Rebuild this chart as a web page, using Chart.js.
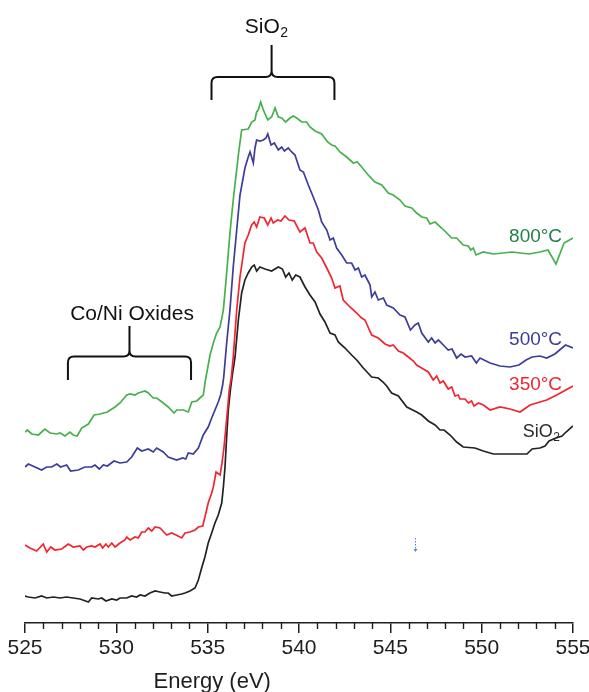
<!DOCTYPE html>
<html>
<head>
<meta charset="utf-8">
<title>O K-edge spectra</title>
<script src="https://cdn.jsdelivr.net/npm/chart.js@4.4.1/dist/chart.umd.min.js"></script>
<style>
  html, body { margin: 0; padding: 0; background: #ffffff; }
  canvas { display: block; }
</style>
</head>
<body>
<canvas id="spectra" width="589" height="692"></canvas>
<script>
// Photon energy (eV) and stacked intensity (a.u., vertically offset) per sample
const energy800 = [525.00,525.13,525.37,525.73,526.09,526.37,526.74,526.92,527.19,527.46,527.64,527.86,528.10,528.47,528.78,529.11,529.51,529.93,530.20,530.57,530.75,531.02,531.20,531.57,531.75,532.02,532.21,532.57,532.84,533.16,533.30,533.67,533.94,534.13,534.40,534.76,534.88,535.13,535.31,535.49,535.68,535.86,536.04,536.22,536.40,536.68,536.86,537.22,537.41,537.59,537.68,537.77,537.90,538.05,538.29,538.50,538.69,538.87,539.05,539.27,539.51,539.69,539.87,540.15,540.42,540.60,540.88,541.24,541.57,541.79,541.97,542.24,542.61,542.97,543.19,543.43,543.79,544.16,544.53,544.89,545.16,545.53,545.80,546.17,546.44,546.72,546.99,547.17,547.45,547.81,548.09,548.36,548.63,548.99,549.27,549.40,549.54,549.69,550.09,550.64,551.66,552.59,553.19,553.63,554.07,554.51,555.00];
const intensity800 = [1.91,1.93,1.89,1.88,1.94,1.90,1.89,1.90,1.87,1.91,1.88,1.87,1.95,1.99,2.08,2.09,2.11,2.16,2.20,2.28,2.29,2.28,2.30,2.32,2.30,2.25,2.25,2.20,2.16,2.10,2.13,2.13,2.11,2.21,2.22,2.28,2.43,2.68,2.80,2.90,2.96,3.13,3.50,3.90,4.23,4.68,4.93,4.94,5.01,5.03,5.11,5.13,5.21,5.13,5.03,5.06,5.15,5.06,5.05,5.01,5.05,5.07,5.05,5.01,5.01,4.96,4.92,4.89,4.81,4.78,4.77,4.71,4.66,4.60,4.61,4.56,4.48,4.41,4.38,4.30,4.28,4.23,4.17,4.15,4.10,4.06,4.05,3.99,4.01,3.95,3.90,3.85,3.85,3.78,3.77,3.73,3.75,3.68,3.71,3.69,3.71,3.69,3.71,3.73,3.59,3.80,3.85];

const energy500 = [525.00,525.18,525.55,525.91,526.19,526.46,526.74,526.95,527.28,527.50,527.92,528.28,528.65,528.83,529.07,529.29,529.51,529.87,530.20,530.57,530.84,531.15,531.39,531.75,532.02,532.21,532.57,532.84,533.30,533.63,533.80,533.94,534.21,534.49,534.76,535.03,535.22,535.40,535.58,535.71,535.82,535.88,536.04,536.22,536.40,536.59,536.77,537.04,537.22,537.32,537.50,537.59,537.68,537.86,538.05,538.19,538.29,538.47,538.65,538.87,539.05,539.20,539.41,539.60,539.78,540.05,540.24,540.51,540.78,541.06,541.24,541.52,541.70,541.88,542.06,542.34,542.61,542.88,543.07,543.25,543.43,543.61,543.89,543.98,544.16,544.34,544.62,544.80,545.16,545.53,545.80,546.10,546.35,546.53,546.72,547.08,547.26,547.45,547.63,547.90,548.17,548.38,548.63,548.87,549.09,549.45,549.71,549.91,550.46,551.00,551.55,552.04,552.43,552.76,553.19,553.56,554.01,554.59,555.00];
const intensity500 = [1.56,1.59,1.56,1.53,1.56,1.56,1.59,1.56,1.58,1.52,1.53,1.56,1.56,1.58,1.54,1.58,1.57,1.62,1.60,1.61,1.66,1.75,1.72,1.74,1.71,1.75,1.71,1.66,1.63,1.65,1.64,1.70,1.69,1.75,1.88,1.96,2.05,2.13,2.21,2.28,2.38,2.46,2.80,3.13,3.56,3.93,4.28,4.55,4.66,4.71,4.60,4.75,4.83,4.82,4.83,4.85,4.89,4.78,4.80,4.73,4.76,4.72,4.75,4.71,4.68,4.53,4.51,4.38,4.26,4.13,4.01,3.93,3.83,3.85,3.75,3.68,3.60,3.60,3.53,3.55,3.46,3.48,3.38,3.26,3.31,3.23,3.25,3.18,3.15,3.08,3.06,2.93,2.98,3.00,2.90,2.81,2.85,2.80,2.83,2.78,2.73,2.74,2.65,2.69,2.66,2.67,2.60,2.65,2.60,2.57,2.56,2.58,2.63,2.66,2.67,2.65,2.69,2.78,2.75];

const energy350 = [525.00,525.27,525.64,526.00,526.19,526.41,526.64,527.01,527.37,527.64,528.01,528.19,528.38,528.65,528.83,529.11,529.25,529.43,529.56,529.75,529.93,530.20,530.47,530.57,530.75,531.02,531.20,531.39,531.57,531.75,531.94,532.12,532.39,532.76,533.03,533.27,533.58,533.76,534.03,534.31,534.49,534.73,534.85,535.03,535.22,535.31,535.46,535.68,535.77,535.89,536.00,536.10,536.18,536.29,536.40,536.59,536.77,537.04,537.22,537.41,537.55,537.68,537.86,538.10,538.29,538.47,538.59,538.83,539.01,539.23,539.45,539.74,540.05,540.33,540.60,540.78,540.97,541.24,541.52,541.79,541.97,542.24,542.42,542.79,543.16,543.43,543.61,543.98,544.34,544.71,544.98,545.16,545.44,545.71,545.98,546.26,546.44,546.80,547.08,547.35,547.54,547.72,547.90,548.17,548.36,548.54,548.72,548.81,549.09,549.27,549.45,549.58,549.82,550.09,550.46,551.00,551.55,552.10,552.65,553.19,553.56,554.11,555.00];
const intensity350 = [0.78,0.75,0.72,0.79,0.71,0.76,0.73,0.74,0.79,0.76,0.77,0.73,0.76,0.77,0.76,0.79,0.75,0.79,0.76,0.80,0.76,0.80,0.83,0.86,0.83,0.86,0.85,0.91,0.91,0.95,0.92,0.96,0.95,0.88,0.90,0.88,0.85,0.90,0.91,0.93,0.96,0.97,1.06,1.20,1.30,1.36,1.51,1.48,1.58,1.75,1.96,2.16,2.33,2.45,2.66,3.13,3.46,3.80,3.88,3.98,4.01,3.96,4.06,4.05,3.98,4.05,4.00,4.03,4.02,4.07,4.03,4.02,3.91,3.95,3.80,3.80,3.71,3.65,3.55,3.45,3.35,3.37,3.23,3.16,3.10,3.05,3.03,2.88,2.85,2.79,2.77,2.78,2.72,2.70,2.66,2.62,2.58,2.54,2.51,2.43,2.47,2.40,2.42,2.34,2.36,2.27,2.28,2.24,2.24,2.20,2.22,2.17,2.20,2.18,2.13,2.16,2.14,2.11,2.18,2.21,2.23,2.28,2.37];

const energySiO2 = [525.00,525.18,525.55,525.91,526.19,526.55,526.92,527.28,527.64,528.01,528.47,528.65,529.01,529.20,529.43,529.75,530.02,530.20,530.57,530.84,531.11,531.30,531.57,531.84,532.12,532.39,532.66,532.84,533.03,533.30,533.58,533.76,534.03,534.31,534.49,534.67,534.85,535.03,535.22,535.40,535.58,535.77,535.86,535.95,536.04,536.13,536.25,536.36,536.50,536.68,536.86,537.04,537.22,537.41,537.55,537.68,537.86,538.14,538.50,538.87,539.09,539.27,539.45,539.63,539.82,540.05,540.33,540.60,540.88,541.15,541.42,541.70,541.97,542.15,542.52,542.88,543.16,543.52,543.98,544.34,544.60,544.80,545.07,545.44,545.90,546.44,546.72,547.08,547.45,547.72,547.94,548.27,548.63,548.99,549.63,550.09,550.64,551.55,552.48,552.76,553.19,553.47,553.69,554.07,554.40,554.62,555.00];
const intensitySiO2 = [0.27,0.26,0.25,0.27,0.25,0.26,0.25,0.26,0.25,0.24,0.21,0.25,0.24,0.25,0.22,0.24,0.23,0.25,0.25,0.27,0.26,0.28,0.27,0.30,0.32,0.31,0.30,0.30,0.27,0.28,0.29,0.30,0.32,0.35,0.43,0.55,0.66,0.80,0.90,1.00,1.08,1.20,1.36,1.56,1.86,2.13,2.34,2.49,2.66,3.03,3.30,3.43,3.50,3.56,3.58,3.52,3.56,3.54,3.52,3.56,3.54,3.46,3.50,3.43,3.48,3.46,3.36,3.28,3.21,3.09,3.01,2.90,2.88,2.81,2.75,2.68,2.63,2.55,2.46,2.45,2.41,2.37,2.30,2.27,2.16,2.11,2.08,2.02,1.98,1.93,1.93,1.88,1.81,1.76,1.75,1.72,1.69,1.69,1.69,1.74,1.75,1.77,1.82,1.85,1.87,1.91,1.97];

// Axis ticks
const energyTicks = [525, 530, 535, 540, 545, 550, 555];
const minorStep = 1;

// Series labels written beside the curves
const seriesNames = ['800°C', '500°C', '350°C', 'SiO2'];
const seriesColors = ['#46b04c', '#3c3c9a', '#ef2630', '#222222'];
const labelColors  = ['#1f7f4a', '#3c3c9a', '#ef2630', '#2a2a2a'];

const FONT = '"Liberation Sans", Arial, Helvetica, sans-serif';
const AXIS = '#1e1e1e';

function pairs(xs, ys) {
  const n = Math.min(xs.length, ys.length);
  const out = [];
  for (let i = 0; i < n; i++) out.push({ x: xs[i], y: ys[i] });
  return out;
}

const seriesData = [
  pairs(energy800, intensity800),
  pairs(energy500, intensity500),
  pairs(energy350, intensity350),
  pairs(energySiO2, intensitySiO2)
];

// Draws a curly bracket: legs down at xl/xr, bar at yBar, stem up to yTip at xc
function brace(ctx, xl, xr, xc, yLeg, yBar, yTip, r) {
  ctx.beginPath();
  ctx.moveTo(xl, yLeg);
  ctx.lineTo(xl, yBar + r);
  ctx.quadraticCurveTo(xl, yBar, xl + r, yBar);
  ctx.lineTo(xc - r, yBar);
  ctx.quadraticCurveTo(xc, yBar, xc, yBar - r);
  ctx.lineTo(xc, yTip);
  ctx.moveTo(xc, yBar - r);
  ctx.quadraticCurveTo(xc, yBar, xc + r, yBar);
  ctx.lineTo(xr - r, yBar);
  ctx.quadraticCurveTo(xr, yBar, xr, yBar + r);
  ctx.lineTo(xr, yLeg);
  ctx.stroke();
}

// "SiO" with a subscript 2
function drawSiO2(ctx, x, y, size, align) {
  ctx.font = size + 'px ' + FONT;
  const main = 'SiO';
  const wMain = ctx.measureText(main).width;
  ctx.font = Math.round(size * 0.68) + 'px ' + FONT;
  const wSub = ctx.measureText('2').width;
  let left = x;
  if (align === 'center') left = x - (wMain + wSub) / 2;
  ctx.textAlign = 'left';
  ctx.textBaseline = 'alphabetic';
  ctx.font = size + 'px ' + FONT;
  ctx.fillText(main, left, y);
  ctx.font = Math.round(size * 0.68) + 'px ' + FONT;
  ctx.fillText('2', left + wMain + 0.5, y + size * 0.2);
}

const annotations = {
  id: 'annotations',
  afterDraw(chart) {
    const { ctx } = chart;
    const xs = chart.scales.x;
    const ys = chart.scales.y;
    const X = v => xs.getPixelForValue(v);
    const Y = v => ys.getPixelForValue(v);
    ctx.save();

    // minor ticks every 1 eV
    ctx.strokeStyle = AXIS;
    ctx.lineWidth = 1.4;
    const base = xs.top;
    for (let v = energyTicks[0]; v <= energyTicks[energyTicks.length - 1]; v += minorStep) {
      if (energyTicks.includes(v)) continue;
      const px = Math.round(X(v)) + 0.5;
      ctx.beginPath();
      ctx.moveTo(px, base);
      ctx.lineTo(px, base + 6);
      ctx.stroke();
    }

    // axis title
    ctx.fillStyle = AXIS;
    ctx.font = '22px ' + FONT;
    ctx.textAlign = 'center';
    ctx.textBaseline = 'alphabetic';
    ctx.fillText('Energy (eV)', X(535.25), base + 65);

    // brackets
    ctx.strokeStyle = '#111111';
    ctx.lineWidth = 2;
    brace(ctx, X(535.21), X(541.94), X(538.50), Y(5.23), Y(5.46), Y(5.78), 6);
    brace(ctx, X(527.35), X(534.09), X(530.72), Y(2.43), Y(2.665), Y(2.97), 6);

    ctx.fillStyle = '#111111';
    drawSiO2(ctx, X(538.20), Y(5.90), 21, 'center');
    ctx.font = '21px ' + FONT;
    ctx.textAlign = 'center';
    ctx.textBaseline = 'alphabetic';
    ctx.fillText('Co/Ni Oxides', X(530.86), Y(3.03));

    // series labels
    const lab = [
      [551.50, 3.81], [551.50, 2.78], [551.50, 2.33], [552.25, 1.86]
    ];
    ctx.textAlign = 'left';
    for (let i = 0; i < 3; i++) {
      ctx.fillStyle = labelColors[i];
      ctx.font = '19px ' + FONT;
      ctx.fillText(seriesNames[i], X(lab[i][0]), Y(lab[i][1]));
    }
    ctx.fillStyle = labelColors[3];
    drawSiO2(ctx, X(lab[3][0]), Y(lab[3][1]), 18, 'left');

    // small dotted marker
    const mx = Math.round(X(546.35)) + 0.5;
    ctx.strokeStyle = '#4f86d8';
    ctx.lineWidth = 1;
    ctx.setLineDash([1.5, 1.5]);
    ctx.beginPath();
    ctx.moveTo(mx, Y(0.85));
    ctx.lineTo(mx, Y(0.73));
    ctx.stroke();
    ctx.setLineDash([]);
    ctx.fillStyle = '#4f86d8';
    ctx.beginPath();
    ctx.moveTo(mx - 2, Y(0.74));
    ctx.lineTo(mx + 2, Y(0.74));
    ctx.lineTo(mx, Y(0.71));
    ctx.closePath();
    ctx.fill();

    ctx.restore();
  }
};

new Chart(document.getElementById('spectra'), {
  type: 'line',
  data: {
    datasets: seriesData.map((d, i) => ({
      label: seriesNames[i],
      data: d,
      borderColor: seriesColors[i],
      borderWidth: 1.7,
      pointRadius: 0,
      tension: 0,
      fill: false
    }))
  },
  options: {
    responsive: false,
    animation: false,
    events: [],
    layout: { padding: { left: 25, right: 16, top: 0, bottom: 0 } },
    plugins: { legend: { display: false }, tooltip: { enabled: false } },
    scales: {
      x: {
        type: 'linear',
        min: energyTicks[0],
        max: energyTicks[energyTicks.length - 1],
        afterBuildTicks: s => { s.ticks = energyTicks.map(v => ({ value: v })); },
        afterFit: s => { s.height = 69; s.paddingLeft = 0; s.paddingRight = 0; },
        border: { display: true, color: AXIS, width: 1.5 },
        grid: { drawOnChartArea: false, drawTicks: true, tickLength: 10, color: AXIS, lineWidth: 1.5 },
        ticks: {
          color: AXIS,
          padding: 3,
          maxRotation: 0,
          autoSkip: false,
          font: { family: FONT, size: 21 },
          callback: v => String(v)
        }
      },
      y: { display: false, min: 0, max: 6.23 }
    }
  },
  plugins: [annotations]
});
</script>
</body>
</html>
